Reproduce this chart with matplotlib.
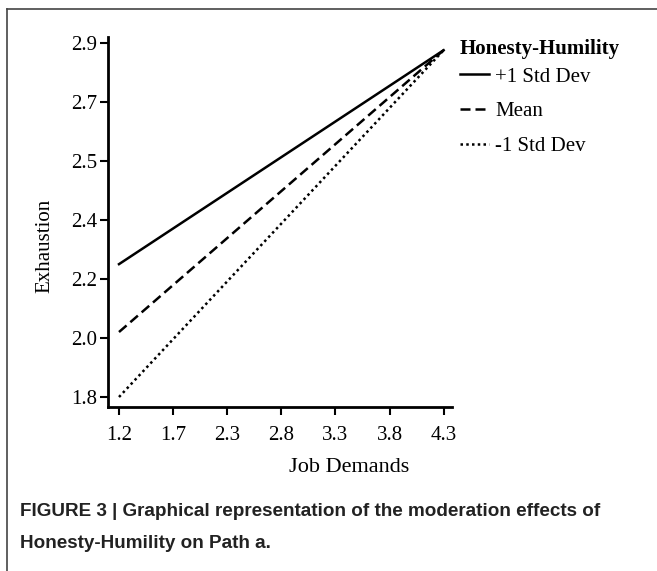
import numpy as np
import matplotlib.pyplot as plt
from matplotlib.lines import Line2D

# simple slopes: exhaustion vs job demands at three levels of honesty-humility
job_demands = [1.2, 4.3]
plus_sd = [2.213, 2.878]
mean_line = [2.002, 2.878]
minus_sd = [1.800, 2.878]

y_ticks = np.linspace(1.8, 2.9, 7)
y_labels = ["1.8", "2.0", "2.2", "2.4", "2.5", "2.7", "2.9"]
x_ticks = np.linspace(1.2, 4.3, 7)
x_labels = ["1.2", "1.7", "2.3", "2.8", "3.3", "3.8", "4.3"]

serif = "Liberation Serif"

fig = plt.figure(figsize=(6.57, 5.71), dpi=100)
ax = fig.add_axes([108 / 657, 1 - 407 / 571, 344 / 657, 370 / 571])

ax.plot(job_demands, plus_sd, color="black", lw=1.8, ls="-")
ax.plot(job_demands, mean_line, color="black", lw=1.8, ls=(0, (4, 2)))
ax.plot(job_demands, minus_sd, color="black", lw=1.8, ls=(0, (1, 1.3)))

ax.set_xlim(1.095, 4.38)
ax.set_ylim(1.769, 2.919)
ax.set_xticks(x_ticks)
ax.set_xticklabels(x_labels, fontfamily=serif, fontsize=15)
ax.set_yticks(y_ticks)
ax.set_yticklabels(y_labels, fontfamily=serif, fontsize=15)
ax.tick_params(direction="out", length=6, width=1.5, color="black")
ax.tick_params(axis="x", pad=8)
ax.tick_params(axis="y", pad=2)
for side in ["top", "right"]:
    ax.spines[side].set_visible(False)
for side in ["left", "bottom"]:
    ax.spines[side].set_linewidth(2)

fig.text(349 / 657, 1 - 467 / 571, "Job Demands", ha="center", va="center",
         fontfamily=serif, fontsize=16)
fig.text(45 / 657, 1 - 246 / 571, "Exhaustion", ha="center", va="center",
         rotation=90, fontfamily=serif, fontsize=15)

handles = [Line2D([], [], color="black", lw=1.8, ls="-"),
           Line2D([], [], color="black", lw=1.8, ls=(0, (4, 2))),
           Line2D([], [], color="black", lw=1.8, ls=(0, (1, 1.3)))]
leg = fig.legend(handles, ["+1 Std Dev", "Mean", "-1 Std Dev"],
                 loc="upper left", bbox_to_anchor=(441 / 657, 1 - 20 / 571),
                 frameon=False, title="Honesty-Humility",
                 prop={"family": serif, "size": 15}, handlelength=1.4,
                 handletextpad=0.3, labelspacing=0.72, alignment="left")
leg.get_title().set_fontfamily(serif)
leg.get_title().set_fontweight("bold")
leg.get_title().set_fontsize(15)
leg._legend_box.sep = 6

fig.text(20 / 657, 1 - 511 / 571,
         "FIGURE 3 | Graphical representation of the moderation effects of",
         ha="left", va="center", fontfamily="Liberation Sans", fontweight="bold",
         fontsize=13.6, color="#222222")
fig.text(20 / 657, 1 - 543 / 571, "Honesty-Humility on Path a.",
         ha="left", va="center", fontfamily="Liberation Sans", fontweight="bold",
         fontsize=13.6, color="#222222")

# page frame: top and left edges
fig.add_artist(Line2D([7 / 657, 7 / 657], [0, 1 - 9 / 571],
                      transform=fig.transFigure, color="#444444", lw=1.2))
fig.add_artist(Line2D([7 / 657, 1], [1 - 9 / 571, 1 - 9 / 571],
                      transform=fig.transFigure, color="#444444", lw=1.2))

fig.savefig("out.png", dpi=100)
